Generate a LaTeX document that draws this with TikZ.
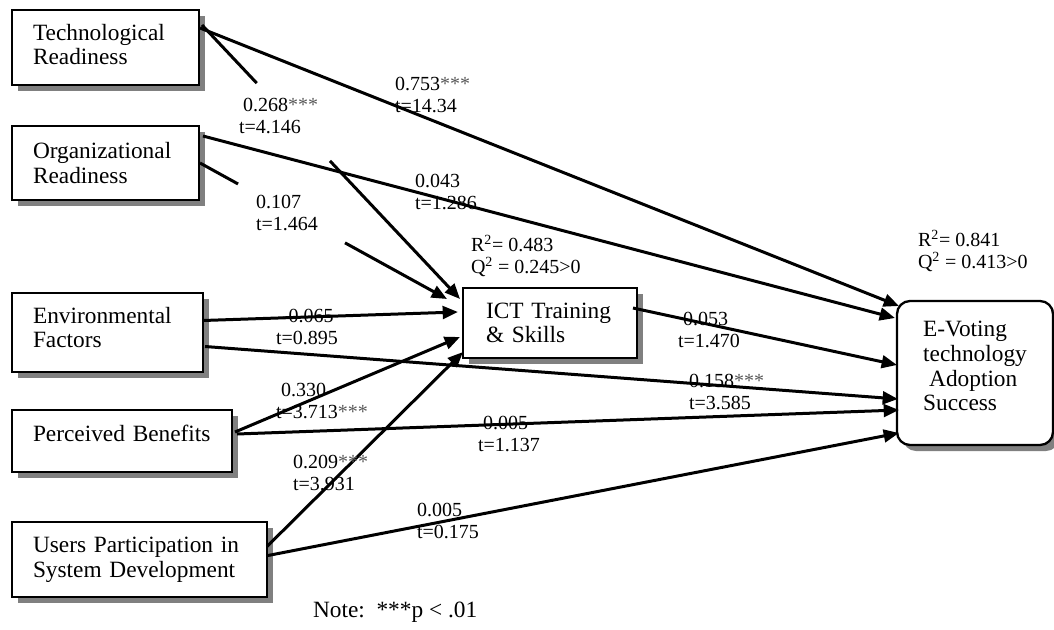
\documentclass[tikz,border=0pt]{standalone}
\usepackage{fontspec}
\setmainfont{Liberation Serif}
\usetikzlibrary{arrows.meta,shadows,calc}
\newcommand{\stars}{{\color{black!65}***}}
\newcommand{\sqr}{\textsuperscript{2}}

\begin{document}
\begin{tikzpicture}[x=0.75pt,y=-0.75pt,
  every node/.style={inner sep=0pt, outer sep=0pt},
  shadowed/.style={drop shadow={shadow xshift=4.5pt, shadow yshift=-4.5pt, fill=black!50, opacity=1}},
  factor/.style={shadowed, draw, line width=1.75pt, fill=white, anchor=north west,
    align=left, inner ysep=0pt, inner xsep=15.75pt,
    font=\fontsize{17.5}{18.5}\selectfont},
  coef/.style={anchor=base west, align=left, font=\fontsize{15}{16.5}\selectfont},
  link/.style={line width=2.25pt},
  arrow/.style={link, -{Triangle[length=11.5pt,width=9.5pt]}},
]
\useasboundingbox (0,0) rectangle (1054,629);

% constructs
\node[factor, minimum width=140.25pt, minimum height=56.25pt, text width=108.75pt, text depth=23pt]
  (tech) at (12,10) {Technological\\Readiness};
\node[factor, minimum width=140.25pt, minimum height=55.5pt, text width=108.75pt]
  (org) at (12,126) {Organizational\\Readiness};
\node[factor, minimum width=143.25pt, minimum height=59.25pt, text width=111.75pt, text depth=26pt]
  (env) at (12,293) {Environmental\\Factors};
\node[factor, minimum width=165pt, minimum height=46.5pt, text width=133.5pt, text depth=11pt]
  (pb) at (12,410) {Perceived Benefits};
\node[factor, minimum width=191.25pt, minimum height=56.25pt, text width=159.75pt]
  (users) at (12,522) {Users Participation in\\System Development};
\node[factor, minimum width=130.5pt, minimum height=52.5pt, text width=96pt, inner xsep=17.25pt]
  (ict) at (463,288) {ICT Training\\\& Skills};
\node[factor, rounded corners=9.75pt, minimum width=117pt, minimum height=108pt, inner xsep=0pt, text depth=10.5pt]
  (ev) at (897,301) {E-Voting\\technology\\\hspace*{4.5pt}Adoption\\Success};

% end points of the two interrupted paths
\coordinate (techS) at ([shift={(3,15)}]tech.north east);
\coordinate (techT) at ([shift={(-3,11)}]ict.north west);
\coordinate (orgS) at ([shift={(1,37)}]org.north east);
\coordinate (orgT) at ([shift={(-16,11)}]ict.north west);

% paths into ICT Training & Skills
\draw[link] (techS) -- ($(techS)!0.212!(techT)$);
\draw[arrow] ($(techS)!0.496!(techT)$) -- (techT);
\draw[link] (orgS) -- ($(orgS)!0.154!(orgT)$);
\draw[arrow] ($(orgS)!0.587!(orgT)$) -- (orgT);
\draw[arrow] ([shift={(0,-12)}]env.east) -- ([shift={(-5,-11)}]ict.west);
\draw[arrow] ([shift={(3,-9)}]pb.east) -- ([shift={(-3,14)}]ict.west);
\draw[arrow] ([shift={(0,-13)}]users.east) -- ([shift={(0,-6)}]ict.south west);

% paths into E-Voting technology Adoption Success
\draw[arrow] ([shift={(1,18)}]tech.north east) -- ([shift={(2,5)}]ev.north west);
\draw[arrow] ([shift={(4,10)}]org.north east) -- ([shift={(-2,17)}]ev.north west);
\draw[arrow] ([shift={(-4,-15)}]ict.east) -- ([shift={(0,-8)}]ev.west);
\draw[arrow] ([shift={(2,14)}]env.east) -- ([shift={(1,26)}]ev.west);
\draw[arrow] ([shift={(5,-7)}]pb.east) -- ([shift={(2,37)}]ev.west);
\draw[arrow] ([shift={(1,-4)}]users.east) -- ([shift={(2,60)}]ev.west);

% path coefficients (placed at the baseline of their t-value line)
\node[coef] (c1) at (395,112) {0.753\stars\\t=14.34};
\node[coef] (c2) at (239,133) {\hspace*{3pt}0.268\stars\\t=4.146};
\node[coef] (c3) at (256,230) {0.107\\t=1.464};
\node[coef] (c4) at (415,209) {0.043\\t=1.286};
\node[coef] (c5) at (276,344) {\hspace*{4.5pt}-0.065\\t=0.895};
\node[coef] (c6) at (276,418) {\hspace*{3.75pt}0.330\\t=3.713\stars};
\node[coef] (c7) at (293,490) {0.209\stars\\t=3.931};
\node[coef] (c8) at (678,347) {\hspace*{3.75pt}0.053\\t=1.470};
\node[coef] (c9) at (689,409) {0.158\stars\\t=3.585};
\node[coef] (c10) at (478,451) {\hspace*{3.75pt}0.005\\t=1.137};
\node[coef] (c11) at (417,538) {0.005\\t=0.175};

% explained variance and predictive relevance
\node[coef] (fit1) at (471,273) {R\sqr= 0.483\\Q\sqr\ = 0.245>0};
\node[coef] (fit2) at (918,268) {R\sqr= 0.841\\Q\sqr\ = 0.413>0};

\node[anchor=base west, font=\fontsize{17.5}{18.5}\selectfont] (note) at (313,617) {Note:\ \ ***p < .01};
\end{tikzpicture}
\end{document}
